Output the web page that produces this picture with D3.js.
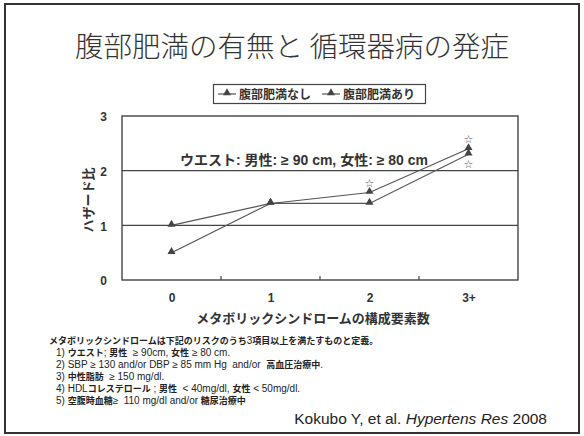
<!DOCTYPE html>
<html>
<head>
<meta charset="utf-8">
<script src="https://cdn.jsdelivr.net/npm/d3@7"></script>
<style>
  body { margin: 0; background: #fff; }
  svg { display: block; }
</style>
</head>
<body>
<script>
// data
const categories = ["0", "1", "2", "3+"];
const seriesNames = ["腹部肥満なし", "腹部肥満あり"];
const nashi = [1.0, 1.4, 1.4, 2.3];
const ari = [0.5, 1.4, 1.6, 2.4];
// significance stars: 1 = above point, -1 = below point, 0 = none
const starsNashi = [0, 0, 0, -1];
const starsAri = [0, 0, 1, 1];
const yTicks = [0, 1, 2, 3];

const title = "腹部肥満の有無と 循環器病の発症";
const yTitle = "ハザード比";
const xTitle = "メタボリックシンドロームの構成要素数";
const note = "ウエスト: 男性: ≥ 90 cm, 女性: ≥ 80 cm";
const footLines = [
  "メタボリックシンドロームは下記のリスクのうち3項目以上を満たすものと定義。",
  "1) ウエスト; 男性  ≥ 90cm, 女性 ≥ 80 cm.",
  "2) SBP ≥ 130 and/or DBP ≥ 85 mm Hg  and/or  高血圧治療中.",
  "3) 中性脂肪  ≥ 150 mg/dl.",
  "4) HDLコレステロール ; 男性  < 40mg/dl, 女性 < 50mg/dl.",
  "5) 空腹時血糖≥  110 mg/dl and/or 糖尿治療中"
];

const width = 584, height = 436;
const jp = "'Noto Sans CJK JP', 'Liberation Sans', sans-serif";
const latin = "'Liberation Sans', Arial, 'Noto Sans CJK JP', sans-serif";
const ink = "#333";

const svg = d3.select("body").append("svg")
  .attr("width", width)
  .attr("height", height);

svg.append("rect").attr("width", width).attr("height", height).attr("fill", "#fff");

// slide frame
svg.append("rect")
  .attr("x", 5).attr("y", 4)
  .attr("width", 574).attr("height", 429)
  .attr("fill", "none")
  .attr("stroke", "#333")
  .attr("stroke-width", 2);

svg.append("text")
  .attr("x", 292).attr("y", 57)
  .attr("text-anchor", "middle")
  .attr("font-family", jp)
  .attr("font-weight", 300)
  .attr("font-size", 28.5)
  .attr("fill", "#333")
  .text(title);

// plot area
const plot = { left: 122, right: 518, top: 116, bottom: 280 };

const x = d3.scalePoint().domain(categories).range([plot.left, plot.right]).padding(0.5);
const y = d3.scaleLinear().domain([0, 3]).range([plot.bottom, plot.top]);

// gridlines at 1 and 2
svg.append("g")
  .selectAll("line")
  .data(yTicks.slice(1, -1))
  .join("line")
  .attr("x1", plot.left).attr("x2", plot.right)
  .attr("y1", (d) => y(d)).attr("y2", (d) => y(d))
  .attr("stroke", "#444")
  .attr("stroke-width", 1.4);

svg.append("rect")
  .attr("x", plot.left).attr("y", plot.top)
  .attr("width", plot.right - plot.left).attr("height", plot.bottom - plot.top)
  .attr("fill", "none")
  .attr("stroke", "#444")
  .attr("stroke-width", 1.4);

// small inner ticks between categories
svg.append("g")
  .selectAll("line")
  .data(categories.slice(1))
  .join("line")
  .attr("x1", (d) => x(d) - x.step() / 2).attr("x2", (d) => x(d) - x.step() / 2)
  .attr("y1", plot.bottom).attr("y2", plot.bottom - 4)
  .attr("stroke", "#444")
  .attr("stroke-width", 1.2);

// axes labels
const yAxis = svg.append("g")
  .attr("transform", `translate(${plot.left},1)`)
  .call(d3.axisLeft(y).tickValues(yTicks).tickSize(0).tickPadding(15).tickFormat(d3.format("d")));
yAxis.select(".domain").remove();
yAxis.selectAll("text")
  .attr("font-family", latin).attr("font-size", 12).attr("font-weight", "bold").attr("fill", ink);

const xAxis = svg.append("g")
  .attr("transform", `translate(0,${plot.bottom})`)
  .call(d3.axisBottom(x).tickSize(0).tickPadding(13));
xAxis.select(".domain").remove();
xAxis.selectAll("text")
  .attr("font-family", latin).attr("font-size", 12).attr("font-weight", "bold").attr("fill", ink);

svg.append("text")
  .attr("transform", "translate(93,200) rotate(-90)")
  .attr("text-anchor", "middle")
  .attr("font-family", jp).attr("font-size", 13).attr("font-weight", "bold").attr("fill", ink)
  .text(yTitle);

svg.append("text")
  .attr("x", 313).attr("y", 323)
  .attr("text-anchor", "middle")
  .attr("font-family", jp).attr("font-size", 13).attr("font-weight", "bold").attr("fill", ink)
  .text(xTitle);

svg.append("text")
  .attr("x", 180).attr("y", 165)
  .attr("font-family", latin).attr("font-size", 14).attr("font-weight", "bold").attr("fill", ink)
  .text(note);

// series
const line = d3.line().x((d, i) => x(categories[i])).y((d) => y(d));
const tri = d3.symbol().type(d3.symbolTriangle).size(28);

[nashi, ari].forEach((vals) => {
  svg.append("path")
    .datum(vals)
    .attr("d", line)
    .attr("fill", "none")
    .attr("stroke", "#555")
    .attr("stroke-width", 1.2);
  svg.append("g")
    .selectAll("path")
    .data(vals)
    .join("path")
    .attr("transform", (d, i) => `translate(${x(categories[i])},${y(d) - 1})`)
    .attr("d", tri)
    .attr("fill", "#444");
});

[[nashi, starsNashi], [ari, starsAri]].forEach(([vals, stars]) => {
  svg.append("g")
    .selectAll("text")
    .data(vals.map((v, i) => ({ v, i, s: stars[i] })).filter((d) => d.s !== 0))
    .join("text")
    .attr("x", (d) => x(categories[d.i]))
    .attr("y", (d) => y(d.v) + (d.s > 0 ? -6 : 14))
    .attr("text-anchor", "middle")
    .attr("font-family", "'DejaVu Sans', sans-serif")
    .attr("font-size", 11)
    .attr("fill", "#555")
    .text("☆");
});

// legend
const legend = svg.append("g");
legend.append("rect")
  .attr("x", 213.5).attr("y", 84.5)
  .attr("width", 212).attr("height", 19)
  .attr("fill", "#fff")
  .attr("stroke", "#444")
  .attr("stroke-width", 1.2);
const legendX = [218, 322];
seriesNames.forEach((name, i) => {
  const g = legend.append("g").attr("transform", `translate(${legendX[i]},94)`);
  g.append("line").attr("x1", 0).attr("x2", 18).attr("stroke", "#555").attr("stroke-width", 1.2);
  g.append("path").attr("transform", "translate(9,-1)").attr("d", tri).attr("fill", "#444");
  g.append("text")
    .attr("x", 21).attr("y", 4.5)
    .attr("font-family", jp).attr("font-size", 12).attr("font-weight", "bold").attr("fill", ink)
    .text(name);
});

// footnotes: Japanese runs bold, latin runs regular
const isJp = (ch) => /[\u3000-\u30ff\u4e00-\u9fff\uff00-\uffef]/.test(ch);
function runs(s) {
  const out = [];
  for (const ch of s) {
    const j = isJp(ch);
    if (out.length && out[out.length - 1].j === j) out[out.length - 1].t += ch;
    else out.push({ t: ch, j });
  }
  return out;
}

const foot = svg.append("g");
footLines.forEach((s, i) => {
  const t = foot.append("text")
    .attr("x", i === 0 ? 49 : 56)
    .attr("y", 344 + i * 12)
    .attr("font-family", latin)
    .attr("font-size", 10)
    .attr("fill", "#222")
    .attr("xml:space", "preserve");
  runs(s).forEach((r) => {
    t.append("tspan")
      .attr("font-family", r.j ? jp : latin)
      .attr("font-weight", r.j ? "bold" : "normal")
      .attr("font-size", r.j ? 9 : 10)
      .text(r.t);
  });
});

const cite = svg.append("text")
  .attr("x", 547).attr("y", 424)
  .attr("text-anchor", "end")
  .attr("font-family", latin)
  .attr("font-size", 15.5)
  .attr("fill", "#222");
cite.append("tspan").text("Kokubo Y, et al. ");
cite.append("tspan").attr("font-style", "italic").text("Hypertens Res");
cite.append("tspan").text(" 2008");
</script>
</body>
</html>
